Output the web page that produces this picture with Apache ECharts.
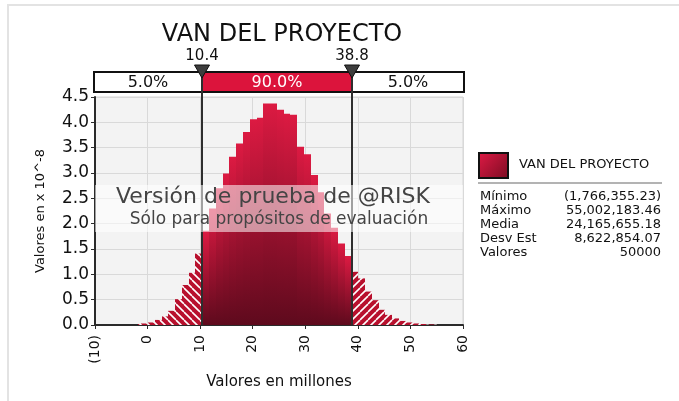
<!DOCTYPE html>
<html>
<head>
<meta charset="utf-8">
<script src="https://cdn.jsdelivr.net/npm/echarts@6/dist/echarts.min.js"></script>
<style>
  html, body { margin: 0; padding: 0; background: #fff; }
  #main { width: 679px; height: 401px; }
</style>
</head>
<body>
<div id="main"></div>
<script>
// datos del histograma (valores en millones, densidad en x 10^-8)
var minVal = -1.766355;
var maxVal = 55.002183;
var lowCut = 10.4;
var highCut = 38.8;
var binWidth = 1.291;
var leftTail = [0.02, 0.03, 0.05, 0.10, 0.17, 0.28, 0.51, 0.79, 1.03, 1.41];
var centerBins = [1.86, 2.30, 2.70, 2.99, 3.32, 3.58, 3.81, 4.06, 4.09, 4.37, 4.37,
                  4.25, 4.17, 4.15, 3.52, 3.37, 2.96, 2.62, 2.20, 1.92, 1.61, 1.36];
var rightTail = [1.05, 0.92, 0.66, 0.49, 0.30, 0.20, 0.13, 0.08, 0.05, 0.03, 0.02, 0.01, 0.01];
var pctLabels = ['5.0%', '90.0%', '5.0%'];
var xTicks = [-10, 0, 10, 20, 30, 40, 50, 60];
var yTicks = [0, 0.5, 1, 1.5, 2, 2.5, 3, 3.5, 4, 4.5];
var statNames = ['Mínimo', 'Máximo', 'Media', 'Desv Est', 'Valores'];
var statValues = ['(1,766,355.23)', '55,002,183.46', '24,165,655.18', '8,622,854.07', '50000'];

var FONT = '"DejaVu Sans", Verdana, sans-serif';

// bins: [inicio, fin, altura, tipo] tipo 0 = cola izq, 1 = centro, 2 = cola der
var bins = [];
leftTail.forEach(function (h, i) {
  var x1 = lowCut - (leftTail.length - 1 - i) * binWidth;
  bins.push([Math.max(minVal, x1 - binWidth), x1, h, 0]);
});
centerBins.forEach(function (h, i) {
  var x0 = lowCut + i * binWidth;
  bins.push([x0, i === centerBins.length - 1 ? highCut : x0 + binWidth, h, 1]);
});
rightTail.forEach(function (h, i) {
  var x0 = highCut + i * binWidth;
  bins.push([x0, Math.min(maxVal, x0 + binWidth), h, 2]);
});

function makeHatch(dir) {
  var n = 8;
  var c = document.createElement('canvas');
  c.width = n; c.height = n;
  var g = c.getContext('2d');
  g.fillStyle = '#b8102d';
  g.fillRect(0, 0, n, n);
  g.strokeStyle = '#ffffff';
  g.lineWidth = 1.6;
  for (var k = -1; k <= 1; k++) {
    g.beginPath();
    if (dir === 'left') {
      g.moveTo(k * n, 0); g.lineTo(k * n + n, n);
    } else {
      g.moveTo(k * n, n); g.lineTo(k * n + n, 0);
    }
    g.stroke();
  }
  return { image: c, repeat: 'repeat' };
}
var hatchLeft = makeHatch('left');
var hatchRight = makeHatch('right');
var solidFill = new echarts.graphic.LinearGradient(0, 0, 0, 1, [
  { offset: 0, color: '#dc1a42' },
  { offset: 1, color: '#5e0a1d' }
]);

function renderBin(params, api) {
  var kind = api.value(3);
  var p0 = api.coord([api.value(0), api.value(2)]);
  var p1 = api.coord([api.value(1), 0]);
  var x = Math.round(p0[0]);
  var w = Math.round(p1[0]) - x;
  return {
    type: 'rect',
    shape: { x: x, y: p0[1], width: w, height: p1[1] - p0[1] },
    style: { fill: kind === 1 ? solidFill : (kind === 0 ? hatchLeft : hatchRight) }
  };
}

var option = {
  animation: false,
  backgroundColor: '#ffffff',
  title: {
    text: 'VAN DEL PROYECTO',
    left: 277, top: 18, textAlign: 'center',
    textStyle: { fontFamily: FONT, fontSize: 24, fontWeight: 'normal', color: '#111' }
  },
  grid: {
    left: 95, right: 216, top: 97, bottom: 76,
    show: true, backgroundColor: '#f3f3f3', borderColor: '#d4d4d4', borderWidth: 1
  },
  xAxis: {
    type: 'value', min: xTicks[0], max: xTicks[xTicks.length - 1], interval: 10,
    axisLine: { show: true, onZero: false, lineStyle: { color: '#2b2b2b', width: 2 } },
    axisTick: { show: true, length: 4, lineStyle: { color: '#2b2b2b' } },
    axisLabel: {
      rotate: 90, margin: 10, fontFamily: FONT, fontSize: 14, color: '#111',
      formatter: function (v) { return v < 0 ? '(' + (-v) + ')' : String(v); }
    },
    splitLine: { show: true, lineStyle: { color: '#d9d9d9' } },
    name: 'Valores en millones', nameLocation: 'middle', nameGap: 50,
    nameTextStyle: { fontFamily: FONT, fontSize: 15, color: '#111' }
  },
  yAxis: {
    type: 'value', min: yTicks[0], max: yTicks[yTicks.length - 1], interval: 0.5,
    axisLine: { show: true, onZero: false, lineStyle: { color: '#2b2b2b', width: 2 } },
    axisTick: { show: true, length: 4, lineStyle: { color: '#2b2b2b' } },
    axisLabel: {
      margin: 6, fontFamily: FONT, fontSize: 17, color: '#111',
      formatter: function (v) { return v.toFixed(1); }
    },
    splitLine: { show: true, lineStyle: { color: '#d9d9d9' } },
    name: 'Valores en x 10^-8', nameLocation: 'middle', nameGap: 48, nameRotate: 90,
    nameTextStyle: { fontFamily: FONT, fontSize: 13, color: '#111' }
  },
  series: [{
    type: 'custom',
    renderItem: renderBin,
    encode: { x: [0, 1], y: 2 },
    data: bins,
    z: 3
  }]
};

var chart = echarts.init(document.getElementById('main'));
chart.setOption(option);

var px = function (v) { return chart.convertToPixel({ xAxisIndex: 0 }, v); };
var py = function (v) { return chart.convertToPixel({ yAxisIndex: 0 }, v); };
var xL = px(xTicks[0]) - 1, xR = px(xTicks[xTicks.length - 1]) + 1;
var xA = Math.round(px(lowCut)), xB = Math.round(px(highCut));
var yBase = py(0);
var boxTop = 72, boxBot = 92;
var boxMid = (boxTop + boxBot) / 2;

var g = [];
// marco exterior
g.push({ type: 'polyline', shape: { points: [[8, 401], [8, 5], [679, 5]] },
  style: { stroke: '#e3e3e3', lineWidth: 2, fill: null }, z: 1 });
// barra de delimitadores
g.push({ type: 'rect', shape: { x: xL, y: boxTop, width: xA - xL, height: boxBot - boxTop }, style: { fill: '#fff' }, z: 10 });
g.push({ type: 'rect', shape: { x: xA, y: boxTop, width: xB - xA, height: boxBot - boxTop }, style: { fill: '#dc143c' }, z: 10 });
g.push({ type: 'rect', shape: { x: xB, y: boxTop, width: xR - xB, height: boxBot - boxTop }, style: { fill: '#fff' }, z: 10 });
g.push({ type: 'rect', shape: { x: xL, y: boxTop, width: xR - xL, height: boxBot - boxTop },
  style: { fill: null, stroke: '#111', lineWidth: 2 }, z: 11 });
[[ (xL + xA) / 2, '#111' ], [ (xA + xB) / 2, '#fff' ], [ (xB + xR) / 2, '#111' ]].forEach(function (s, i) {
  g.push({ type: 'text', x: s[0], y: boxMid + 1, z: 12,
    style: { text: pctLabels[i], font: '16px ' + FONT, fill: s[1], align: 'center', verticalAlign: 'middle' } });
});
[[xA, lowCut], [xB, highCut]].forEach(function (d) {
  g.push({ type: 'line', shape: { x1: d[0], y1: boxTop, x2: d[0], y2: yBase },
    style: { stroke: '#2e2e2e', lineWidth: 2 }, z: 20 });
  g.push({ type: 'polygon', shape: { points: [[d[0] - 7.5, 65], [d[0] + 7.5, 65], [d[0], 78]] },
    style: { fill: '#3d3d3d', stroke: '#111', lineWidth: 1 }, z: 21 });
  g.push({ type: 'text', x: d[0], y: 56, z: 21,
    style: { text: d[1].toFixed(1), font: '15px ' + FONT, fill: '#111', align: 'center', verticalAlign: 'middle' } });
});
// marca de agua
g.push({ type: 'rect', shape: { x: px(xTicks[0]), y: 185, width: px(xTicks[xTicks.length - 1]) - px(xTicks[0]), height: 47 },
  style: { fill: 'rgba(255,255,255,0.55)' }, z: 30 });
g.push({ type: 'text', x: (px(xTicks[0]) + px(xTicks[xTicks.length - 1])) / 2 - 6, y: 197, z: 31,
  style: { text: 'Versión de prueba de @RISK', font: '22px ' + FONT, fill: '#444', align: 'center', verticalAlign: 'middle' } });
g.push({ type: 'text', x: (px(xTicks[0]) + px(xTicks[xTicks.length - 1])) / 2, y: 220, z: 31,
  style: { text: 'Sólo para propósitos de evaluación', font: '17px ' + FONT, fill: '#444', align: 'center', verticalAlign: 'middle' } });
// leyenda y estadísticas
g.push({ type: 'rect', shape: { x: 479, y: 153, width: 29, height: 25 },
  style: { fill: new echarts.graphic.LinearGradient(0, 0, 1, 1, [
    { offset: 0, color: '#e01a45' }, { offset: 1, color: '#7a0c22' }]), stroke: '#111', lineWidth: 2 }, z: 10 });
g.push({ type: 'text', x: 519, y: 165, z: 10,
  style: { text: 'VAN DEL PROYECTO', font: '13px ' + FONT, fill: '#111', align: 'left', verticalAlign: 'middle' } });
g.push({ type: 'line', shape: { x1: 478, y1: 183, x2: 662, y2: 183 },
  style: { stroke: '#9a9a9a', lineWidth: 1.5 }, z: 10 });
statNames.forEach(function (name, i) {
  var y = 197 + i * 14;
  g.push({ type: 'text', x: 480, y: y, z: 10,
    style: { text: name, font: '13px ' + FONT, fill: '#111', align: 'left', verticalAlign: 'middle' } });
  g.push({ type: 'text', x: 661, y: y, z: 10,
    style: { text: statValues[i], font: '13px ' + FONT, fill: '#111', align: 'right', verticalAlign: 'middle' } });
});

chart.setOption({ graphic: g });
</script>
</body>
</html>
